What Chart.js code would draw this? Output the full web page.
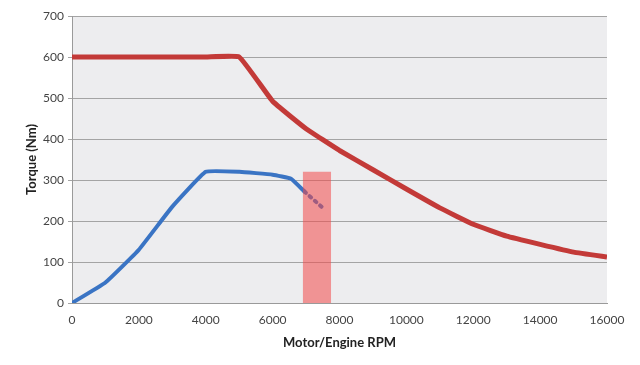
<!DOCTYPE html>
<html>
<head>
<meta charset="utf-8">
<script src="https://cdn.jsdelivr.net/npm/chart.js@4"></script>
<style>
  html, body { margin: 0; padding: 0; background: #fff; }
  #wrap { width: 640px; height: 365px; }
</style>
</head>
<body>
<div id="wrap"><canvas id="myChart"></canvas></div>
<script>
// motor curve (red)
const motorRpm = [0, 1000, 2000, 3000, 4000, 5000, 6000, 7000, 8000, 9000, 10000, 11000, 12000, 13000, 14000, 15000, 16000];
const motorTorque = [600, 600, 600, 600, 600, 600, 492, 425, 372, 325, 278, 232, 192, 163, 143, 124, 112];

// engine curve (blue), solid part then dotted tail
const engineRpm = [0, 1000, 2000, 3000, 4000, 5000, 6000, 6550, 6950];
const engineTorque = [0, 50, 130, 235, 320, 320, 313, 303, 272];
const engineTailRpm = [6950, 7500];
const engineTailTorque = [272, 232];

// shaded band
const bandRpm = [6900, 7750];
const bandTorque = [320, 320];

const xTicks = [0, 2000, 4000, 6000, 8000, 10000, 12000, 14000, 16000];

const toPts = (xs, ys) => xs.map((x, i) => ({ x: x, y: ys[i] }));

const plotBg = {
  id: "plotBg",
  beforeDraw(chart) {
    const a = chart.chartArea;
    const ctx = chart.ctx;
    ctx.save();
    ctx.fillStyle = "#ededef";
    ctx.fillRect(a.left, a.top, a.right - a.left, a.bottom - a.top);
    ctx.restore();
  },
};

const tickFont = { family: "Lato, 'Open Sans', sans-serif", size: 12 };
const titleFont = { family: "Lato, 'Open Sans', sans-serif", size: 13, weight: "bold" };

new Chart(document.getElementById("myChart"), {
  type: "scatter",
  data: {
    datasets: [
      {
        label: "motor",
        data: toPts(motorRpm, motorTorque),
        showLine: true,
        borderColor: "#c33a38",
        borderWidth: 5,
        pointRadius: 0,
        tension: 0.1,
        order: 3,
      },
      {
        label: "engine",
        data: toPts(engineRpm, engineTorque),
        showLine: true,
        borderColor: "#3a74c4",
        borderWidth: 4,
        pointRadius: 0,
        tension: 0.1,
        borderCapStyle: "round",
        order: 2,
      },
      {
        label: "engine tail",
        data: toPts(engineTailRpm, engineTailTorque),
        showLine: true,
        borderColor: "#3a74c4",
        borderWidth: 4,
        borderDash: [2, 5],
        borderCapStyle: "round",
        pointRadius: 0,
        order: 2,
      },
      {
        label: "band",
        data: toPts(bandRpm, bandTorque),
        showLine: true,
        borderWidth: 0,
        borderColor: "rgba(0,0,0,0)",
        backgroundColor: "rgba(242,72,72,0.55)",
        fill: "origin",
        pointRadius: 0,
        order: 1,
      },
    ],
  },
  options: {
    responsive: true,
    maintainAspectRatio: false,
    animation: false,
    layout: { padding: { left: 24, right: 33, top: 16, bottom: 14 } },
    plugins: {
      legend: { display: false },
      tooltip: { enabled: false },
    },
    scales: {
      x: {
        type: "linear",
        min: 0,
        max: 16000,
        afterFit: (s) => { s.height = 48; },
        afterBuildTicks: (s) => { s.ticks = xTicks.map((v) => ({ value: v })); },
        grid: { display: false, drawOnChartArea: false, drawTicks: true, tickLength: 5, color: "#9a9a9a" },
        border: { color: "#9a9a9a", width: 1 },
        ticks: { color: "#444", font: tickFont, padding: 5, maxRotation: 0, callback: (v) => String(v) },
        title: { display: true, text: "Motor/Engine RPM", color: "#222", font: titleFont, padding: 0 },
      },
      y: {
        min: 0,
        max: 700,
        afterFit: (s) => { s.width = 48; },
        grid: { color: "#a4a4a4", lineWidth: 1, tickLength: 4 },
        border: { color: "#9a9a9a", width: 1 },
        ticks: { stepSize: 100, color: "#444", font: tickFont, padding: 4, callback: (v) => String(v) },
        title: { display: true, text: "Torque (Nm)", color: "#222", font: titleFont, padding: 0 },
      },
    },
  },
  plugins: [plotBg],
});
</script>
</body>
</html>
